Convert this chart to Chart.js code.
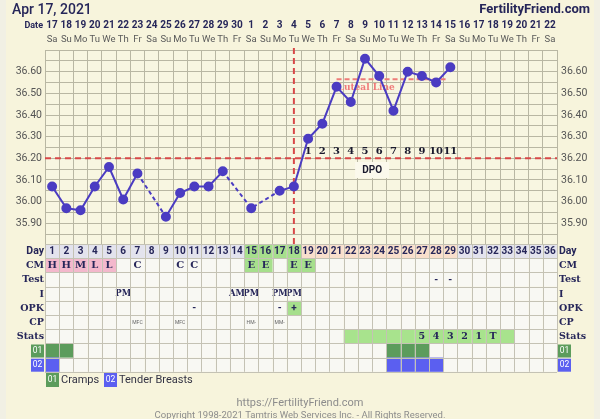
<!DOCTYPE html>
<html>
<head>
<meta charset="utf-8">
<script src="https://cdn.jsdelivr.net/npm/chart.js@4.4.0/dist/chart.umd.min.js"></script>
<style>
html, body { margin: 0; padding: 0; background: #f1f0e4; }
#wrap { width: 600px; height: 419px; }
</style>
</head>
<body>
<div id="wrap"><canvas id="bbt" width="600" height="419"></canvas></div>
<script>
// chart data, one entry per cycle day (36 days)
const dates = ['17','18','19','20','21','22','23','24','25','26','27','28','29','30',
  '1','2','3','4','5','6','7','8','9','10','11','12','13','14','15','16','17','18','19','20','21','22'];
const weekdays = ['Sa','Su','Mo','Tu','We','Th','Fr','Sa','Su','Mo','Tu','We','Th','Fr',
  'Sa','Su','Mo','Tu','We','Th','Fr','Sa','Su','Mo','Tu','We','Th','Fr','Sa','Su','Mo','Tu','We','Th','Fr','Sa'];
const temps = [36.07, 35.97, 35.96, 36.07, 36.16, 36.01, 36.13, null, 35.93, 36.04, 36.07, 36.07, 36.14, null,
  35.97, null, 36.05, 36.07, 36.29, 36.36, 36.53, 36.46, 36.66, 36.58, 36.42, 36.60, 36.58, 36.55, 36.62,
  null, null, null, null, null, null, null];
const cmValues = ['H','H','M','L','L','','C','','','C','C','','','','E','E','','E','E','','','','','','','','','','','','','','','','',''];
const testValues = ['','','','','','','','','','','','','','','','','','','','','','','','','','','','-','-','','','','','','',''];
const intercourse = ['','','','','','PM','','','','','','','','AM','PM','','PM','PM','','','','','','','','','','','','','','','','','',''];
const opkValues = ['','','','','','','','','','','-','','','','','','-','+','','','','','','','','','','','','','','','','','',''];
const cpValues = ['','','','','','','MFC','','','MFC','','','','','HM-','','MM-','','','','','','','','','','','','','','','','','','',''];
const statsText = ['','','','','','','','','','','','','','','','','','','','','','','','','','','5','4','3','2','1','T','','','',''];
const statsMarked = [22, 33];          // first and last marked day in stats row
const crampsDays = [1, 2, 25, 26, 27];
const tenderDays = [1, 25, 26, 27, 28];
const dpoLabels = ['1','2','3','4','5','6','7','8','9','10','11'];
const tempTicks = [35.90, 36.00, 36.10, 36.20, 36.30, 36.40, 36.50, 36.60];
const coverline = 36.20;
const lutealLine = 36.565;
const ovulationDay = 18;
const fertileDays = [15, 18];
const lutealDays = [19, 29];
const lutealLineDays = [21, 29];

const NAVY = '#262659';
const GRID = '#b9b7a3';
const LINE = '#4b3cc2';
const RED = '#d84848';
const SANS = 'Roboto, "Noto Sans", sans-serif';
const SERIF = '"DejaVu Serif", "Liberation Serif", serif';

const rowNames = ['Day', 'CM', 'Test', 'I', 'OPK', 'CP', 'Stats', '01', '02'];
const TABLE_TOP = 244;
const ROW_H = 14.2;

function colX(chart, dayNum) {
  return chart.scales.x.getPixelForValue(dayNum - 1);
}

const overlay = {
  id: 'overlay',
  beforeDraw(chart) {
    const c = chart.ctx;
    const a = chart.chartArea;
    c.save();
    c.fillStyle = '#f7f4dc';
    c.fillRect(6, 0, 588, 419);
    c.fillStyle = '#f8f6e1';
    c.fillRect(a.left, a.top, a.right - a.left, a.bottom - a.top);

    // header
    c.fillStyle = NAVY;
    c.textBaseline = 'middle';
    c.font = '500 14px ' + SANS;
    c.textAlign = 'left';
    c.fillText('Apr 17, 2021', 12, 10);
    c.font = 'bold 13px ' + SANS;
    c.textAlign = 'right';
    c.fillText('FertilityFriend.com', 590, 10);
    c.font = 'bold 9px ' + SANS;
    c.fillText('Date', 43, 26);
    c.textAlign = 'center';
    dates.forEach((d, i) => {
      const x = colX(chart, i + 1);
      c.fillStyle = NAVY;
      c.font = 'bold 10px ' + SANS;
      c.fillText(d, x, 25);
      c.fillStyle = '#5a5a5a';
      c.font = '9.5px ' + SANS;
      c.fillText(weekdays[i], x, 39.5);
    });
    c.restore();
  },
  beforeDatasetsDraw(chart) {
    const c = chart.ctx;
    const a = chart.chartArea;
    const y = chart.scales.y;
    c.save();
    c.lineWidth = 2;
    c.strokeStyle = RED;
    c.setLineDash([6, 4]);
    c.beginPath();
    c.moveTo(a.left, y.getPixelForValue(coverline));
    c.lineTo(a.right, y.getPixelForValue(coverline));
    c.stroke();
    const ox = colX(chart, ovulationDay);
    c.beginPath();
    c.moveTo(ox, a.top - 2);
    c.lineTo(ox, a.bottom);
    c.stroke();
    // luteal line
    c.strokeStyle = '#ee7c78';
    c.setLineDash([5, 3]);
    const ly = y.getPixelForValue(lutealLine);
    c.beginPath();
    c.moveTo(colX(chart, lutealLineDays[0]), ly);
    c.lineTo(colX(chart, lutealLineDays[1]) - 3, ly);
    c.stroke();
    c.setLineDash([]);
    c.fillStyle = '#f07a7a';
    c.font = 'bold 9px ' + SERIF;
    c.textAlign = 'left';
    c.textBaseline = 'middle';
    c.fillText('Luteal Line', colX(chart, lutealLineDays[0]) + 1, ly + 8);
    c.restore();
  },
  afterDatasetsDraw(chart) {
    const c = chart.ctx;
    c.save();
    c.textAlign = 'center';
    c.textBaseline = 'middle';
    c.fillStyle = '#1a1a2e';
    c.font = 'bold 10px ' + SERIF;
    dpoLabels.forEach((t, i) => {
      c.fillText(t, colX(chart, lutealDays[0] + i), 151);
    });
    const dx = (colX(chart, 23) + colX(chart, 24)) / 2;
    c.fillStyle = '#fbf9ec';
    c.fillRect(dx - 17, 162, 34, 16);
    c.fillStyle = '#1a1a2e';
    c.font = 'bold 10px ' + SANS;
    c.fillText('DPO', dx, 170);
    c.restore();
    drawTable(chart);
  }
};

function drawTable(chart) {
  const c = chart.ctx;
  const a = chart.chartArea;
  const w = (a.right - a.left) / dates.length;
  c.save();
  c.textAlign = 'center';
  c.textBaseline = 'middle';

  function cell(row, day, fill) {
    const x = colX(chart, day) - w / 2;
    const y = TABLE_TOP + row * ROW_H;
    c.fillStyle = fill;
    c.fillRect(x, y, w, ROW_H);
  }
  function text(row, day, t, font, color) {
    c.font = font;
    c.fillStyle = color;
    c.fillText(t, colX(chart, day), TABLE_TOP + row * ROW_H + ROW_H / 2 + 0.5);
  }

  for (let r = 0; r < rowNames.length; r++) {
    for (let d = 1; d <= dates.length; d++) cell(r, d, '#f8f8f3');
  }
  // day row
  for (let d = 1; d <= dates.length; d++) {
    let fill = '#e3e3ed';
    if (d >= fertileDays[0] && d <= fertileDays[1]) fill = '#a6df8c';
    else if (d >= lutealDays[0] && d <= lutealDays[1]) fill = '#f9dfcc';
    cell(0, d, fill);
    text(0, d, String(d), 'bold 10px ' + SANS, NAVY);
  }
  // CM row
  cmValues.forEach((v, i) => {
    if (!v) return;
    if ('HML'.includes(v)) cell(1, i + 1, '#f3b8cc');
    if (v === 'E') cell(1, i + 1, '#a6df8c');
    text(1, i + 1, v, 'bold 10px ' + SERIF, NAVY);
  });
  testValues.forEach((v, i) => { if (v) text(2, i + 1, v, 'bold 10px ' + SANS, NAVY); });
  intercourse.forEach((v, i) => { if (v) text(3, i + 1, v, 'bold 8.5px ' + SERIF, NAVY); });
  opkValues.forEach((v, i) => {
    if (!v) return;
    if (v === '+') cell(4, i + 1, '#a6df8c');
    text(4, i + 1, v, 'bold 10px ' + SANS, NAVY);
  });
  cpValues.forEach((v, i) => { if (v) text(5, i + 1, v, '5px ' + SANS, '#666'); });
  for (let d = statsMarked[0]; d <= statsMarked[1]; d++) cell(6, d, '#a8e38d');
  statsText.forEach((v, i) => { if (v) text(6, i + 1, v, 'bold 9.5px ' + SERIF, NAVY); });
  crampsDays.forEach(d => cell(7, d, '#5c9c5c'));
  tenderDays.forEach(d => cell(8, d, '#5b5ff0'));

  // grid lines of the table
  c.strokeStyle = '#c4c2b4';
  c.lineWidth = 1;
  c.beginPath();
  for (let r = 0; r <= rowNames.length; r++) {
    const y = Math.round(TABLE_TOP + r * ROW_H) + 0.5;
    c.moveTo(a.left, y);
    c.lineTo(a.right, y);
  }
  for (let d = 0; d <= dates.length; d++) {
    const x = Math.round(a.left + d * w) + 0.5;
    c.moveTo(x, TABLE_TOP);
    c.lineTo(x, TABLE_TOP + rowNames.length * ROW_H);
  }
  c.stroke();

  // row labels on both sides
  rowNames.forEach((name, r) => {
    const y = TABLE_TOP + r * ROW_H + ROW_H / 2 + 0.5;
    if (name === '01' || name === '02') {
      const col = name === '01' ? '#5c9c5c' : '#5b5ff0';
      [31, a.right + 1].forEach(bx => {
        c.fillStyle = col;
        c.fillRect(bx, y - 6.5, 13, 13);
        c.fillStyle = '#ffffff';
        c.font = '8.5px ' + SANS;
        c.textAlign = 'center';
        c.fillText(name, bx + 6.5, y);
      });
      return;
    }
    c.fillStyle = NAVY;
    c.font = name === 'Day' ? 'bold 10.5px ' + SANS : 'bold 9.5px ' + SERIF;
    c.textAlign = 'right';
    c.fillText(name, 44, y);
    c.textAlign = 'left';
    c.fillText(name, a.right + 2, y);
  });

  // legend
  const ly = 380;
  [[46, '01', '#5c9c5c', 'Cramps'], [104, '02', '#5b5ff0', 'Tender Breasts']].forEach(([lx, n, col, label]) => {
    c.fillStyle = col;
    c.fillRect(lx, ly - 7, 13, 14);
    c.fillStyle = '#ffffff';
    c.font = '8.5px ' + SANS;
    c.textAlign = 'center';
    c.fillText(n, lx + 6.5, ly);
    c.fillStyle = '#333344';
    c.font = '11px ' + SANS;
    c.textAlign = 'left';
    c.fillText(label, lx + 15, ly);
  });

  // footer
  c.textAlign = 'center';
  c.fillStyle = '#8c8c8c';
  c.font = '11px ' + SANS;
  c.fillText('https://FertilityFriend.com', 300, 403);
  c.font = '9.5px ' + SANS;
  c.fillText('Copyright 1998-2021 Tamtris Web Services Inc. - All Rights Reserved.', 300, 416);
  c.restore();
}

function tickLabel(v) {
  const h = Math.round(v * 100);
  const hit = tempTicks.find(t => Math.round(t * 100) === h);
  return hit !== undefined ? hit.toFixed(2) : '';
}

const yTicks = {
  stepSize: 0.05,
  maxTicksLimit: 100,
  autoSkip: false,
  padding: 3,
  color: '#555555',
  font: { family: SANS, size: 10.5 },
  callback: tickLabel
};

new Chart(document.getElementById('bbt').getContext('2d'), {
  type: 'line',
  data: {
    labels: dates,
    datasets: [{
      data: temps,
      borderColor: LINE,
      backgroundColor: LINE,
      borderWidth: 2,
      pointRadius: 4,
      pointHoverRadius: 4,
      spanGaps: true,
      tension: 0,
      segment: {
        borderDash: ctx => (ctx.p0.skip || ctx.p1.skip) ? [4, 3] : undefined
      }
    }]
  },
  options: {
    responsive: false,
    animation: false,
    layout: { padding: { left: 15, right: 13, top: 50, bottom: 174 } },
    plugins: { legend: { display: false }, tooltip: { enabled: false } },
    scales: {
      x: {
        offset: true,
        grid: { offset: true, color: GRID, drawTicks: false },
        border: { color: GRID },
        ticks: { display: false },
        afterFit: s => { s.height = 0; }
      },
      y: {
        position: 'left',
        min: 35.8,
        max: 36.7,
        ticks: yTicks,
        grid: { color: GRID, drawTicks: false },
        border: { color: GRID },
        afterFit: s => { s.width = 30; }
      },
      y2: {
        position: 'right',
        min: 35.8,
        max: 36.7,
        ticks: Object.assign({}, yTicks, { padding: 4 }),
        grid: { display: false, drawTicks: false },
        border: { color: GRID },
        afterFit: s => { s.width = 30; }
      }
    }
  },
  plugins: [overlay]
});
</script>
</body>
</html>
